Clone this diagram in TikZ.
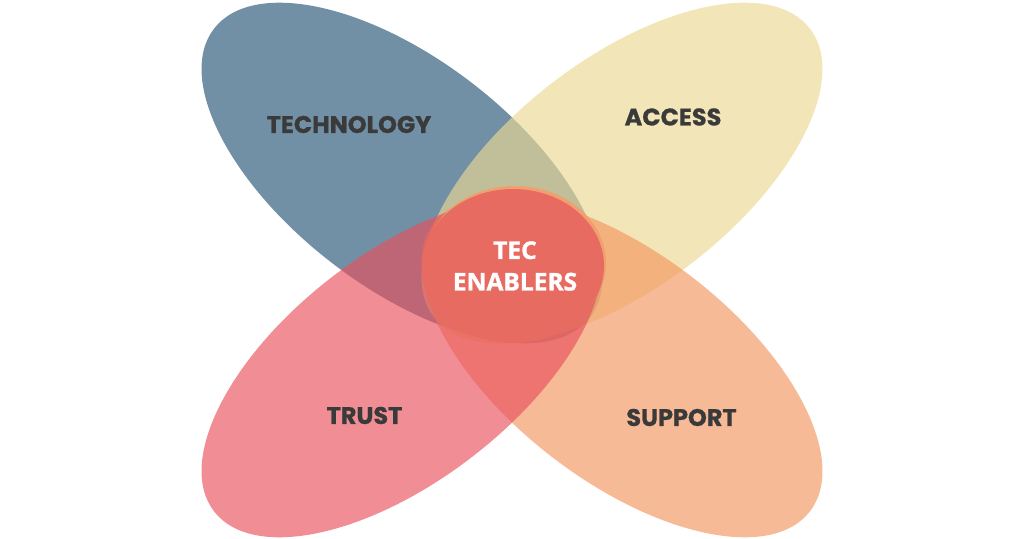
\documentclass[tikz,border=0pt]{standalone}
\usepackage{fontspec}
\newfontfamily\petalfont{Poppins Bold}[FakeBold=0.8]
\newfontfamily\hubfont{Open Sans Bold}[FakeBold=1.2]
\definecolor{techblue}{RGB}{37,84,118}
\definecolor{accessyellow}{RGB}{235,217,147}
\definecolor{supportorange}{RGB}{243,149,94}
\definecolor{trustpink}{RGB}{232,80,92}
\definecolor{hubred}{RGB}{232,107,98}
\definecolor{hubrim}{RGB}{240,160,110}
\definecolor{labelgray}{RGB}{58,58,58}

\begin{document}
\begin{tikzpicture}[x=1pt,y=1pt]
        \tikzstyle{petal}=[fill opacity=0.65]
        \tikzstyle{petal label}=[inner sep=0pt, text=labelgray, font=\petalfont\fontsize{24}{28}\selectfont]
        \tikzstyle{hub label}=[inner sep=0pt, align=center, text=white, font=\hubfont\fontsize{24.5}{31.5}\selectfont]
        \useasboundingbox (0,0) rectangle (1024,538);
        % four petals
        \fill [petal, techblue] (402,365) ellipse [x radius=237, y radius=114, rotate=-37.5];
        \fill [petal, accessyellow] (622,365) ellipse [x radius=237, y radius=114, rotate=37.5];
        \fill [petal, supportorange] (622,171) ellipse [x radius=237, y radius=114, rotate=-37.5];
        \fill [petal, trustpink] (402,171) ellipse [x radius=237, y radius=114, rotate=37.5];
        % centre
        \fill [hubrim] (515,275) ellipse [x radius=91, y radius=77];
        \fill [hubred] (513,272) ellipse [x radius=91, y radius=77];
        \node [petal label] (technology) at (349,413.5) {TECHNOLOGY};
        \node [petal label] (access) at (673,421) {ACCESS};
        \node [petal label] (trust) at (364.5,122.5) {TRUST};
        \node [petal label] (support) at (681.5,120.5) {SUPPORT};
        \node [hub label] (hub) at (515,272) {TEC\\ENABLERS};
\end{tikzpicture}
\end{document}
